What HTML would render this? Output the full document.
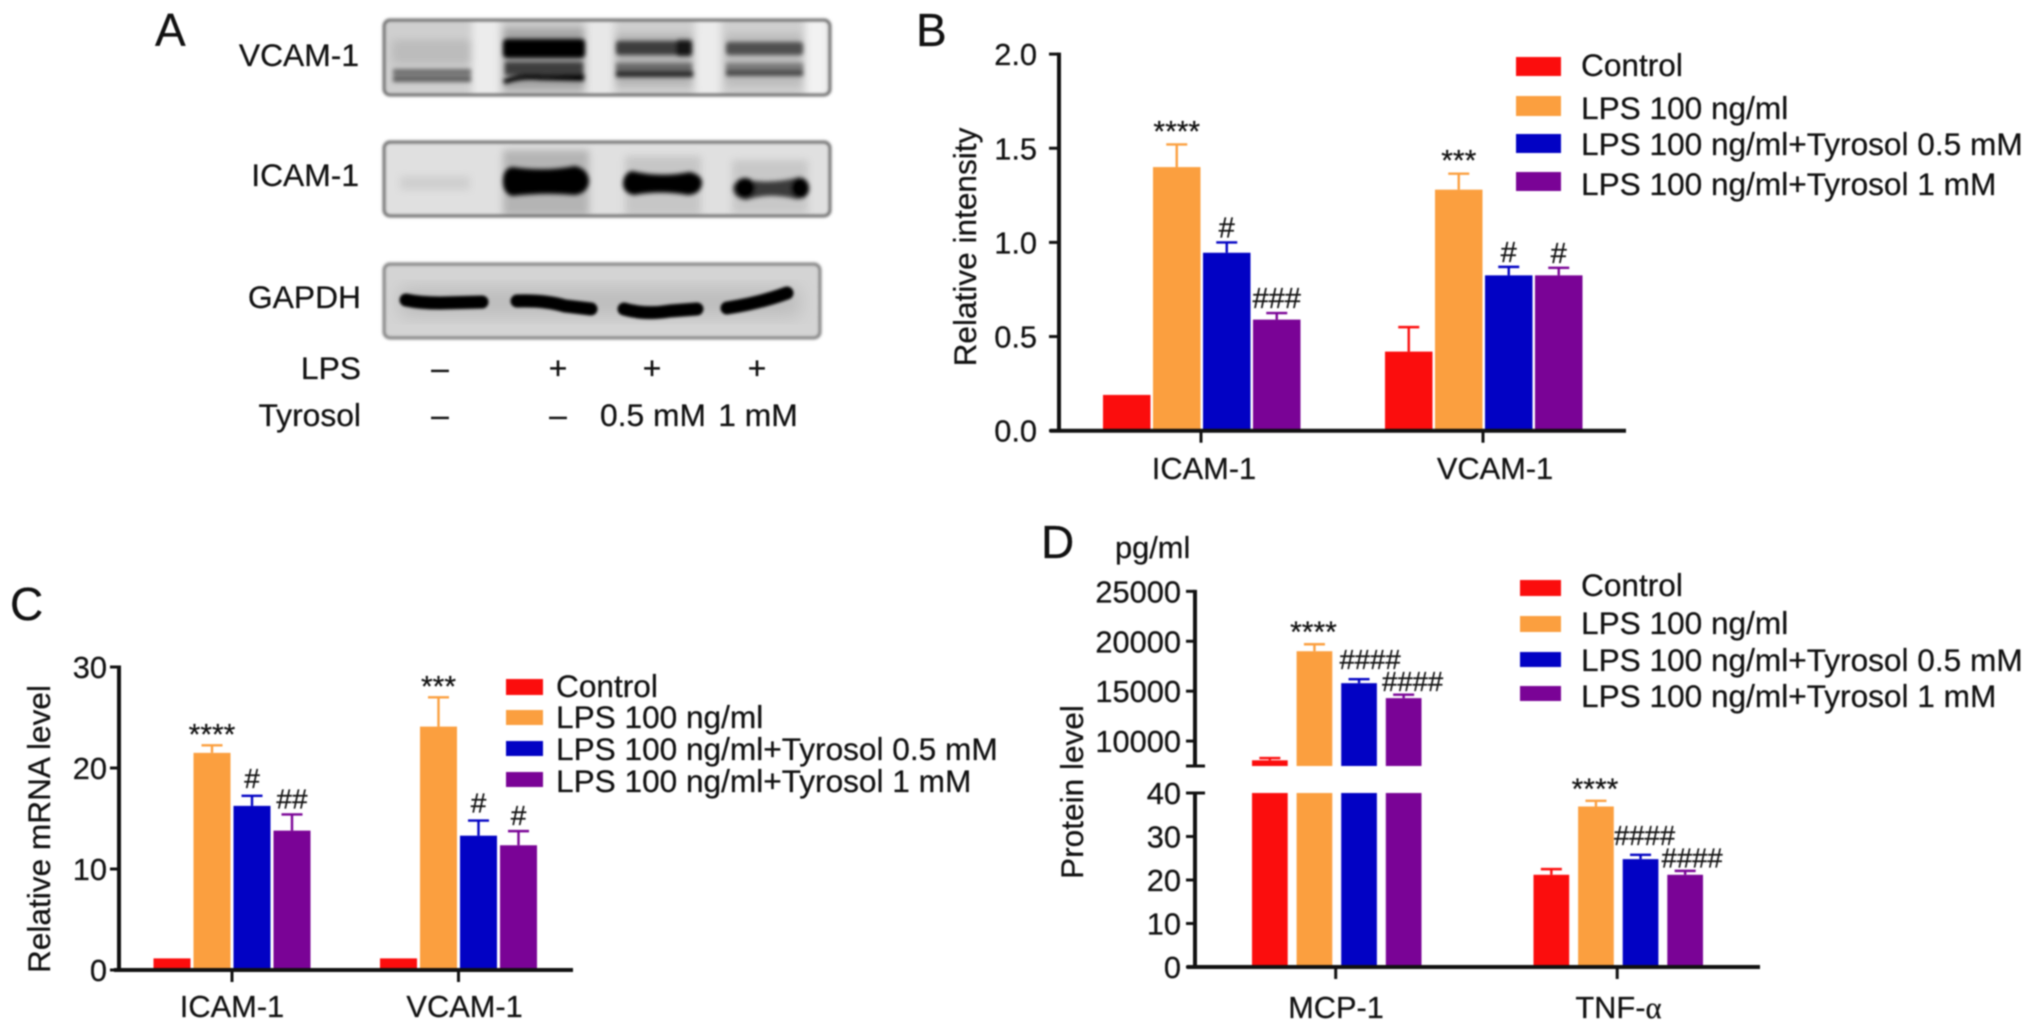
<!DOCTYPE html>
<html lang="en">
<head>
<meta charset="utf-8">
<title>Tyrosol effects on VCAM-1, ICAM-1, MCP-1 and TNF-alpha</title>
<style>
html,body{margin:0;padding:0;background:#fff;}
body{width:2032px;height:1029px;overflow:hidden;}
#figure{display:block;filter:blur(0.7px);}
text{font-family:"Liberation Sans",Arial,sans-serif;fill:#111;stroke:#111;stroke-width:0.25px;}
</style>
</head>
<body>
<svg id="figure" xmlns="http://www.w3.org/2000/svg" width="2032" height="1029" viewBox="0 0 2032 1029">
  <defs>
    <filter id="b1" x="-30%" y="-60%" width="160%" height="220%"><feGaussianBlur stdDeviation="2"/></filter>
    <filter id="b0" x="-30%" y="-60%" width="160%" height="220%"><feGaussianBlur stdDeviation="1.2"/></filter>
    <filter id="b2" x="-30%" y="-80%" width="160%" height="260%"><feGaussianBlur stdDeviation="4"/></filter>
    <filter id="b3" x="-30%" y="-30%" width="160%" height="160%"><feGaussianBlur stdDeviation="9"/></filter>
    <clipPath id="clip1"><rect x="384" y="20" width="446" height="75" rx="6"/></clipPath>
    <clipPath id="clip2"><rect x="384" y="142" width="446" height="74" rx="6"/></clipPath>
    <clipPath id="clip3"><rect x="384" y="264" width="436" height="74" rx="6"/></clipPath>
  </defs>

  <g id="panel-a">
    <text x="155" y="46" font-size="46">A</text>

    <g>
      <g clip-path="url(#clip1)">
        <rect x="384" y="20" width="446" height="75" fill="#cfcfcf"/>
        <g filter="url(#b2)">
          <rect x="472" y="16" width="28" height="84" fill="#ececec"/>
          <rect x="586" y="16" width="28" height="84" fill="#e8e8e8"/>
          <rect x="695" y="16" width="26" height="84" fill="#ececec"/>
          <rect x="805" y="16" width="24" height="84" fill="#f2f2f2"/>
          <rect x="392" y="40" width="80" height="24" fill="#bcbcbc"/>
          <rect x="503" y="28" width="82" height="62" fill="#a4a4a4"/>
          <rect x="615" y="34" width="78" height="52" fill="#b4b4b4"/>
          <rect x="725" y="34" width="78" height="52" fill="#bcbcbc"/>
        </g>
        <g filter="url(#b1)">
          <rect x="393" y="69" width="78" height="6" fill="#6c6c6c"/>
          <rect x="393" y="76" width="78" height="6" fill="#5e5e5e"/>
          <rect x="503" y="39" width="82" height="19" rx="4" fill="#000"/>
          <rect x="505" y="62" width="78" height="13" fill="#3c3c3c"/>
          <path d="M503 80 Q520 72 545 75 L584 74 L584 81 L540 80 Q520 78 505 84Z" fill="#000"/>
          <rect x="616" y="41" width="76" height="14" rx="3" fill="#3e3e3e"/>
          <rect x="676" y="40" width="16" height="16" rx="3" fill="#141414"/>
          <rect x="616" y="63" width="76" height="9" fill="#6a6a6a"/>
          <rect x="616" y="71" width="77" height="6" fill="#242424"/>
          <rect x="726" y="42" width="77" height="13" rx="3" fill="#505050"/>
          <rect x="726" y="63" width="77" height="7" fill="#7c7c7c"/>
          <rect x="726" y="70" width="77" height="6" fill="#484848"/>
        </g>
      </g>
      <rect x="384" y="20" width="446" height="75" rx="6" fill="none" stroke="#6e6e6e" stroke-width="3" filter="url(#b0)"/>
    </g>

    <g>
      <g clip-path="url(#clip2)">
        <rect x="384" y="142" width="446" height="74" fill="#e0e0e0"/>
        <g filter="url(#b2)">
          <rect x="503" y="150" width="86" height="66" fill="#b4b4b4"/>
          <rect x="625" y="156" width="76" height="60" fill="#c6c6c6"/>
          <rect x="732" y="160" width="76" height="54" fill="#c8c8c8"/>
          <rect x="400" y="176" width="70" height="14" fill="#cfcfcf"/>
        </g>
        <g filter="url(#b1)">
          <path d="M512 167 Q545 172 575 166 Q588 169 589 181 Q588 193 575 195 Q545 192 512 196 Q503 193 503 181 Q503 169 512 167Z" fill="#000"/>
          <path d="M632 171 Q660 178 690 172 Q702 175 702 183 Q701 194 688 195 Q660 190 634 195 Q623 193 623 183 Q624 173 632 171Z" fill="#000"/>
          <path d="M742 179 Q770 185 800 177 Q809 182 809 190 Q807 199 796 199 Q770 192 746 200 Q734 198 733 189 Q733 182 742 179Z" fill="#3a3a3a"/>
          <ellipse cx="745" cy="188" rx="10" ry="10" fill="#000"/>
          <ellipse cx="800" cy="188" rx="9" ry="10" fill="#000"/>
        </g>
      </g>
      <rect x="384" y="142" width="446" height="74" rx="6" fill="none" stroke="#6e6e6e" stroke-width="3" filter="url(#b0)"/>
    </g>

    <g>
      <g clip-path="url(#clip3)">
        <rect x="384" y="264" width="436" height="74" fill="#d4d4d4"/>
        <rect x="400" y="288" width="400" height="28" fill="#bcbcbc" filter="url(#b3)"/>
        <g filter="url(#b0)" fill="none" stroke="#000" stroke-width="13" stroke-linecap="round">
          <path d="M406 300 Q420 303 440 303 L482 302"/>
          <path d="M517 301 Q545 300 565 306 L591 309"/>
          <path d="M624 309 Q645 315 670 311 L697 309"/>
          <path d="M727 308 Q760 303 787 293"/>
        </g>
      </g>
      <rect x="384" y="264" width="436" height="74" rx="6" fill="none" stroke="#808080" stroke-width="3" filter="url(#b0)"/>
    </g>

    <g font-size="31.8">
      <text x="359" y="66" text-anchor="end">VCAM-1</text>
      <text x="359" y="186" text-anchor="end">ICAM-1</text>
      <text x="361" y="308" text-anchor="end">GAPDH</text>
      <text x="361" y="379" text-anchor="end">LPS</text>
      <text x="361" y="426" text-anchor="end">Tyrosol</text>
      <text x="440" y="379" text-anchor="middle">–</text>
      <text x="558" y="379" text-anchor="middle">+</text>
      <text x="652" y="379" text-anchor="middle">+</text>
      <text x="757" y="379" text-anchor="middle">+</text>
      <text x="440" y="426" text-anchor="middle">–</text>
      <text x="558" y="426" text-anchor="middle">–</text>
      <text x="653" y="426" text-anchor="middle">0.5 mM</text>
      <text x="758" y="426" text-anchor="middle">1 mM</text>
    </g>
  </g>
  <g id="charts"></g>
</svg>

<script>
/* Shared */
const seriesNames = ['Control', 'LPS 100 ng/ml', 'LPS 100 ng/ml+Tyrosol 0.5 mM', 'LPS 100 ng/ml+Tyrosol 1 mM'];
const seriesColors = ['#fb0d0d', '#fb9f3f', '#0202c4', '#7a0396'];

/* Panel B */
const bCategories = ['ICAM-1', 'VCAM-1'];
const bTicks = ['0.0', '0.5', '1.0', '1.5', '2.0'];
const bControl = [0.19, 0.42];
const bControlErr = [0, 0.13];
const bLps = [1.40, 1.28];
const bLpsErr = [0.12, 0.085];
const bTyr05 = [0.945, 0.825];
const bTyr05Err = [0.055, 0.045];
const bTyr1 = [0.59, 0.825];
const bTyr1Err = [0.035, 0.04];
const bMarks = [['', '****', '#', '###'], ['', '***', '#', '#']];

/* Panel C */
const cCategories = ['ICAM-1', 'VCAM-1'];
const cTicks = ['0', '10', '20', '30'];
const cControl = [1.15, 1.15];
const cControlErr = [0, 0];
const cLps = [21.5, 24.1];
const cLpsErr = [0.75, 2.9];
const cTyr05 = [16.25, 13.3];
const cTyr05Err = [1.0, 1.5];
const cTyr1 = [13.8, 12.35];
const cTyr1Err = [1.6, 1.4];
const cMarks = [['', '****', '#', '##'], ['', '***', '#', '#']];

/* Panel D (broken axis) */
const dCategories = ['MCP-1', 'TNF-'];
const dLowerTicks = ['0', '10', '20', '30', '40'];
const dUpperTicks = ['10000', '15000', '20000', '25000'];
const dControl = [8070, 21.2];
const dControlErr = [230, 1.3];
const dLps = [19000, 36.9];
const dLpsErr = [700, 1.3];
const dTyr05 = [15800, 24.8];
const dTyr05Err = [400, 1.0];
const dTyr1 = [14300, 21.2];
const dTyr1Err = [350, 0.9];
const dMarks = [['', '****', '####', '####'], ['', '****', '####', '####']];

const root = document.getElementById('charts');
const NS = 'http://www.w3.org/2000/svg';
const TICK_FONT = 30.8;
const LEGEND_FONT = 31.6;

function make(tag, props, parent) {
  const el = document.createElementNS(NS, tag);
  for (const k in props) el.setAttribute(k, props[k]);
  parent.appendChild(el);
  return el;
}

function drawText(g, str, x, y, size, anchor, rotate) {
  const t = make('text', {x: x, y: y, 'font-size': size, 'text-anchor': anchor}, g);
  if (rotate) t.setAttribute('transform', 'rotate(-90 ' + x + ' ' + y + ')');
  t.textContent = str;
  return t;
}

/* y-axis functions */
const yB = v => 430.7 - v * 188.3;
const yC = v => 970 - v * 10.1;
const D_BREAK_LOW = 40;
const D_BREAK_HIGH = 7500;
const yDLower = v => 967 - v * 4.35;
const yDUpper = v => 766 - (v - D_BREAK_HIGH) * 0.00998;
const yD = v => (v <= D_BREAK_LOW ? yDLower(v) : yDUpper(v));

function drawBars(g, panel, categories, values, errors, marks, yFn, segmentsFn, barX, barW, markOffset, hashFont) {
  categories.forEach((cat, c) => {
    values.forEach((vals, s) => {
      const v = vals[c];
      const e = errors[s][c];
      const color = seriesColors[s];
      const cx = barX(c, s) + barW / 2;
      const key = panel + '-' + cat.toLowerCase() + '-s' + (s + 1);

      if (e > 0) {
        const topY = yFn(v + e);
        const stem = make('line', {x1: cx, x2: cx, y1: yFn(v), y2: topY, stroke: color, 'stroke-width': 2.4}, g);
        
        
        const cap = make('line', {x1: cx - 10.5, x2: cx + 10.5, y1: topY, y2: topY, stroke: color, 'stroke-width': 2.4}, g);
        
        
      }

      segmentsFn(v).forEach((seg, i) => {
        const r = make('rect', {x: barX(c, s), width: barW, y: seg[0], height: seg[1] - seg[0], fill: color}, g);
        
        
      });

      const label = marks[c][s];
      if (label) {
        const off = markOffset(c, s, label);
        const m = drawText(g, label, cx + off[0], yFn(v + e) + off[1], label[0] === '#' ? hashFont : 30, 'middle');
        
        
      }
    });
  });
}

function drawLegend(g, panel, swatchX, swatchW, rows, textX) {
  seriesNames.forEach((name, s) => {
    const row = rows[s];
    const sw = make('rect', {x: swatchX, y: row[0], width: swatchW, height: row[1], fill: seriesColors[s]}, g);
    
    
    const t = drawText(g, name, textX, row[2], LEGEND_FONT, 'start');
    
    
  });
}

function drawYTick(g, panel, label, y, x0, x1, textX, hasText) {
  const tk = make('line', {x1: x0, x2: x1, y1: y, y2: y, stroke: '#111', 'stroke-width': 3}, g);
  
  
  if (hasText) {
    const t = drawText(g, label, textX, y + 11, TICK_FONT, 'end');
    
    
  }
}

function drawAxisLine(g, name, x1, y1, x2, y2, w) {
  const l = make('line', {x1: x1, y1: y1, x2: x2, y2: y2, stroke: '#111', 'stroke-width': w}, g);
  
  
}

function drawXLabel(g, panel, cat, tickX, labelX, axisY, labelY, tickLen) {
  drawAxisLine(g, 'x-tick-' + panel + '-' + cat.toLowerCase(), tickX, axisY, tickX, axisY + tickLen, 3);
  const t = drawText(g, cat, labelX, labelY, TICK_FONT, 'middle');
  
  
  return t;
}

/* ---------- Panel B ---------- */
(function () {
  const g = make('g', {}, root);
  
  
  const letter = drawText(g, 'B', 916, 46, 46, 'start');
  
  
  const title = drawText(g, 'Relative intensity', 976, 247, LEGEND_FONT, 'middle', true);
  
  

  const barX = (c, s) => 1103 + c * 282 + s * 50;
  const segs = v => [[yB(v), yB(0)]];
  drawBars(g, 'b', bCategories, [bControl, bLps, bTyr05, bTyr1], [bControlErr, bLpsErr, bTyr05Err, bTyr1Err], bMarks, yB, segs, barX, 47.5,
    (c, s, label) => (label[0] === '*' ? [0, -3] : [0, -5]), 29);

  drawAxisLine(g, 'y-axis-b', 1059, yB(2) - 1.5, 1059, yB(0), 4);
  bTicks.forEach(label => drawYTick(g, 'b', label, yB(parseFloat(label)), 1049, 1059, 1037, true));
  drawAxisLine(g, 'x-axis-b', 1050, yB(0), 1626, yB(0), 4);
  drawXLabel(g, 'b', bCategories[0], barX(0, 2) - 2, 1204, yB(0), 479, 12);
  drawXLabel(g, 'b', bCategories[1], barX(1, 2) - 2, 1495, yB(0), 479, 12);
  drawLegend(g, 'b', 1516, 45, [[57, 19, 76], [96, 20, 119], [134, 19, 155], [172, 19, 195]], 1581);
})();

/* ---------- Panel C ---------- */
(function () {
  const g = make('g', {}, root);
  
  
  const letter = drawText(g, 'C', 10, 620, 46, 'start');
  
  
  const title = drawText(g, 'Relative mRNA level', 50, 829, LEGEND_FONT, 'middle', true);
  
  

  const barX = (c, s) => 153.5 + c * 226.5 + s * 40;
  const segs = v => [[yC(v), yC(0)]];
  drawBars(g, 'c', cCategories, [cControl, cLps, cTyr05, cTyr1], [cControlErr, cLpsErr, cTyr05Err, cTyr1Err], cMarks, yC, segs, barX, 37,
    (c, s, label) => (label[0] === '*' ? [0, -1] : [0, s === 3 ? -6 : -8]), 28);

  drawAxisLine(g, 'y-axis-c', 119, yC(30) - 1.5, 119, yC(0), 4);
  cTicks.forEach(label => drawYTick(g, 'c', label, yC(parseFloat(label)), 110, 119, 107, true));
  drawAxisLine(g, 'x-axis-c', 114, yC(0), 573, yC(0), 4);
  drawXLabel(g, 'c', cCategories[0], barX(0, 2) - 1.5, 232, yC(0), 1017, 12);
  drawXLabel(g, 'c', cCategories[1], barX(1, 2) - 1.5, 464.6, yC(0), 1017, 12);
  drawLegend(g, 'c', 506, 37, [[679, 16, 697], [710, 15, 728], [741, 15, 760], [772, 15, 792]], 556);
})();

/* ---------- Panel D ---------- */
(function () {
  const g = make('g', {}, root);
  
  
  const letter = drawText(g, 'D', 1041, 558, 46, 'start');
  
  
  const unit = drawText(g, 'pg/ml', 1115, 558, TICK_FONT, 'start');
  
  
  const title = drawText(g, 'Protein level', 1083, 792, LEGEND_FONT, 'middle', true);
  
  

  const barX = (c, s) => 1252 + c * 281.5 + s * 44.6;
  const segs = v => (v > D_BREAK_LOW
    ? [[yDLower(D_BREAK_LOW), yDLower(0)], [yDUpper(v), yDUpper(D_BREAK_HIGH)]]
    : [[yDLower(v), yDLower(0)]]);
  drawBars(g, 'd', dCategories, [dControl, dLps, dTyr05, dTyr1], [dControlErr, dLpsErr, dTyr05Err, dTyr1Err], dMarks, yD, segs, barX, 35.7,
    (c, s, label) => {
      if (label[0] === '*') return [-1, -2];
      const dx = s === 2 ? (c === 0 ? 11 : 4) : (c === 0 ? 9 : 7);
      return [dx, s === 2 ? -10 : -3.5];
    }, 27.5);

  drawAxisLine(g, 'y-axis-upper-d', 1195, yDUpper(25000) - 1.5, 1195, yDUpper(D_BREAK_HIGH), 4);
  drawAxisLine(g, 'y-axis-lower-d', 1195, yDLower(40), 1195, yDLower(0), 4);
  dUpperTicks.forEach(label => drawYTick(g, 'd', label, yDUpper(parseFloat(label)), 1186, 1195, 1181, true));
  dLowerTicks.forEach(label => drawYTick(g, 'd', label, yDLower(parseFloat(label)), 1186, parseFloat(label) === D_BREAK_LOW ? 1205 : 1195, 1181, true));
  drawYTick(g, 'd', 'break', yDUpper(D_BREAK_HIGH), 1186, 1205, 0, false);
  drawAxisLine(g, 'x-axis-d', 1187, yDLower(0), 1760, yDLower(0), 4);
  drawXLabel(g, 'd', dCategories[0], barX(0, 2) - 5.5, 1336, yDLower(0), 1018, 12);
  const tnf = drawXLabel(g, 'd', dCategories[1], barX(1, 2) - 5.5, 1618.5, yDLower(0), 1018, 12);
  const alpha = make('tspan', {style: 'font-family:"Liberation Serif",serif'}, tnf);
  
  
  alpha.textContent = 'α';
  drawLegend(g, 'd', 1520, 41, [[580, 16, 596], [616, 16, 634], [652, 15, 671], [686, 15, 707]], 1581);
})();
</script>
</body>
</html>
